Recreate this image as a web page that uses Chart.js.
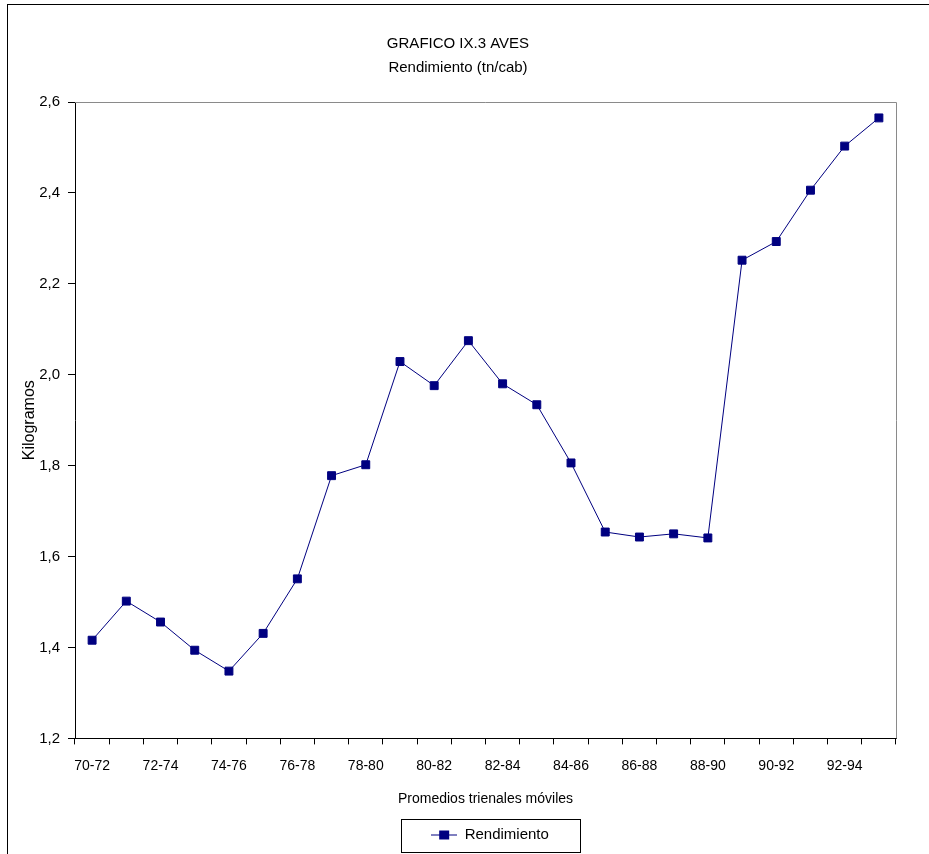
<!DOCTYPE html>
<html>
<head>
<meta charset="utf-8">
<title>GRAFICO IX.3 AVES</title>
<script src="https://cdn.jsdelivr.net/npm/chart.js@4.4.1/dist/chart.umd.min.js"></script>
<style>
  html, body { margin: 0; padding: 0; background: #fff; }
  canvas { display: block; }
</style>
</head>
<body>
<canvas id="chart" width="929" height="854"></canvas>
<script>
// datos
const periodos = ["70-72", "71-73", "72-74", "73-75", "74-76", "75-77", "76-78", "77-79",
  "78-80", "79-81", "80-82", "81-83", "82-84", "83-85", "84-86", "85-87",
  "86-88", "87-89", "88-90", "89-91", "90-92", "91-93", "92-94", "93-95"];
const rendimiento = [1.416, 1.502, 1.456, 1.394, 1.348, 1.431, 1.551, 1.778,
  1.802, 2.029, 1.976, 2.075, 1.980, 1.934, 1.806, 1.654,
  1.643, 1.650, 1.641, 2.252, 2.293, 2.406, 2.503, 2.565];
const yTicks = [1.2, 1.4, 1.6, 1.8, 2.0, 2.2, 2.4, 2.6];

const NAVY = "#000080";
const FONT = "'Liberation Sans', Arial, sans-serif";

// marcador de la leyenda: linea con cuadrado
const marker = document.createElement("canvas");
marker.width = 26; marker.height = 12;
(function () {
  const c = marker.getContext("2d");
  c.strokeStyle = NAVY; c.lineWidth = 1;
  c.beginPath(); c.moveTo(0, 6.5); c.lineTo(26, 6.5); c.stroke();
  c.fillStyle = NAVY; c.fillRect(8, 2, 10, 9);
})();

const frame = {
  id: "frame",
  afterLayout(chart) {
    // la leyenda esta algo a la derecha del centro
    const lg = chart.legend;
    if (lg) { lg.left += 32; lg.right += 32; }
  },
  beforeDraw(chart) {
    const ctx = chart.ctx;
    ctx.save();
    ctx.fillStyle = "#fff";
    ctx.fillRect(0, 0, chart.width, chart.height);
    ctx.strokeStyle = "#000"; ctx.lineWidth = 1;
    ctx.strokeRect(7.5, 4.5, 1000, 900);
    ctx.restore();
  },
  beforeDatasetsDraw(chart) {
    const a = chart.chartArea, ctx = chart.ctx;
    ctx.save();
    ctx.strokeStyle = "#8a8a8a"; ctx.lineWidth = 1;
    ctx.beginPath();
    ctx.moveTo(a.left, Math.round(a.top) + 0.5);
    ctx.lineTo(Math.round(a.right) + 0.5, Math.round(a.top) + 0.5);
    ctx.lineTo(Math.round(a.right) + 0.5, a.bottom);
    ctx.stroke();
    ctx.restore();
  },
  afterDraw(chart) {
    const lg = chart.legend, ctx = chart.ctx;
    if (!lg || !lg.legendHitBoxes.length) return;
    const h = lg.legendHitBoxes[0];
    const cx = h.left + h.width / 2, cy = h.top + h.height / 2;
    ctx.save();
    ctx.strokeStyle = "#000"; ctx.lineWidth = 1;
    ctx.strokeRect(Math.round(cx - 89) + 0.5, Math.round(cy - 16) + 0.5, 179, 33);
    ctx.restore();
  }
};

new Chart(document.getElementById("chart"), {
  type: "line",
  data: {
    labels: periodos,
    datasets: [{
      label: "Rendimiento",
      data: rendimiento,
      borderColor: NAVY,
      backgroundColor: NAVY,
      borderWidth: 1,
      pointStyle: "rect",
      pointRadius: 5.6,
      pointHoverRadius: 5.6,
      tension: 0
    }]
  },
  options: {
    responsive: false,
    animation: false,
    events: [],
    layout: { padding: { left: 20, right: 33, top: 0, bottom: 2 } },
    plugins: {
      title: {
        display: true,
        text: ["GRAFICO IX.3 AVES", "Rendimiento (tn/cab)"],
        color: "#000",
        font: { family: FONT, size: 15, weight: "normal", lineHeight: 1.6 },
        padding: { top: 32, bottom: 22 }
      },
      legend: {
        position: "bottom",
        labels: {
          color: "#000",
          font: { family: FONT, size: 15 },
          usePointStyle: true,
          pointStyle: marker,
          pointStyleWidth: 26,
          boxHeight: 12,
          padding: 10
        }
      },
      tooltip: { enabled: false }
    },
    scales: {
      x: {
        offset: true,
        grid: { offset: true, drawOnChartArea: false, drawTicks: true, tickLength: 6, color: "#000" },
        border: { color: "#000", width: 1 },
        ticks: {
          autoSkip: false, maxRotation: 0, color: "#000", padding: 13,
          font: { family: FONT, size: 14 },
          callback: (v, i) => (i % 2 === 0 ? periodos[i] : "")
        },
        title: {
          display: true, text: "Promedios trienales móviles", color: "#000",
          font: { family: FONT, size: 14 }, padding: { top: 4, bottom: 9 }
        }
      },
      y: {
        min: 1.2, max: 2.6,
        afterBuildTicks: s => { s.ticks = yTicks.map(v => ({ value: v })); },
        afterFit: s => { s.width = 75 - 20; },
        grid: { drawOnChartArea: false, tickLength: 7, color: "#000" },
        border: { color: "#000", width: 1 },
        ticks: {
          color: "#000", padding: 8,
          font: { family: FONT, size: 15 },
          callback: v => v.toFixed(1).replace(".", ",")
        },
        title: {
          display: true, text: "Kilogramos", color: "#000",
          font: { family: FONT, size: 16 }, padding: 0
        }
      }
    }
  },
  plugins: [frame]
});
</script>
</body>
</html>
